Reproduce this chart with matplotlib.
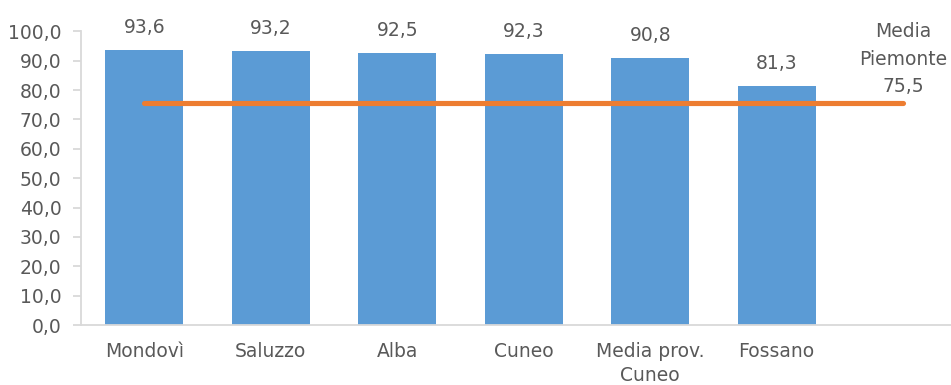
import matplotlib
matplotlib.use("Agg")
import matplotlib.pyplot as plt
import numpy as np

# Categories (last slot is reserved for the regional average label)
categories = ["Mondovì", "Saluzzo", "Alba", "Cuneo", "Media prov.\nCuneo", "Fossano", ""]
bar_values = [93.6, 93.2, 92.5, 92.3, 90.8, 81.3]
piemonte_avg = [75.5, 75.5, 75.5, 75.5, 75.5, 75.5, 75.5]
line_label = "Media\nPiemonte"
y_ticks = [0, 10, 20, 30, 40, 50, 60, 70, 80, 90, 100]

TEXT = "#595959"
BAR = "#5b9bd5"
LINE = "#ed7d31"
AXIS = "#d9d9d9"
FS = 13.5

plt.rcParams["font.family"] = ["DejaVu Sans"]

def fmt(v):
    return f"{v:.1f}".replace(".", ",")

fig = plt.figure(figsize=(9.51, 3.85), dpi=100)
ax = fig.add_axes([0.0852, 0.1558, 0.931, 0.7626])

x = np.arange(len(categories))
xb = x[:len(bar_values)]
ax.bar(xb, bar_values, width=0.617, color=BAR, zorder=2)
ax.plot(x, piemonte_avg, color=LINE, lw=3.7, solid_capstyle="round", zorder=3)

for xi, v in zip(xb, bar_values):
    ax.annotate(fmt(v), (xi, v), xytext=(0, 23), textcoords="offset pixels",
                ha="center", va="center", fontsize=FS, color=TEXT)

last = len(categories) - 1
ax.annotate(line_label + "\n" + fmt(piemonte_avg[last]), (x[last], piemonte_avg[last]),
            xytext=(0, 7), textcoords="offset pixels", ha="center", va="bottom",
            fontsize=FS, color=TEXT, linespacing=1.58, annotation_clip=False)

ax.set_xlim(-0.5, len(categories) - 0.5)
ax.set_ylim(0, 100)
ax.set_yticks(y_ticks)
ax.set_yticklabels([fmt(t) for t in y_ticks])
ax.set_xticks(x)
ax.set_xticklabels(categories, linespacing=1.35)

for s in ["top", "right"]:
    ax.spines[s].set_visible(False)
for s in ["left", "bottom"]:
    ax.spines[s].set_color(AXIS)
    ax.spines[s].set_linewidth(1.3)

ax.tick_params(axis="y", length=6, width=1.3, color=AXIS, pad=8,
               labelsize=FS, labelcolor=TEXT)
ax.tick_params(axis="x", length=0, pad=12, labelsize=FS, labelcolor=TEXT)

fig.savefig("out.png", dpi=100)
